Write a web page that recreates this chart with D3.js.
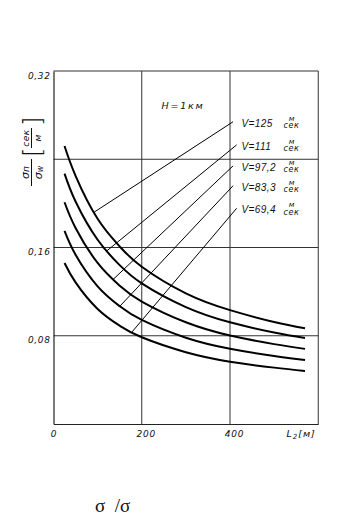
<!DOCTYPE html>
<html><head><meta charset="utf-8">
<script src="https://cdn.jsdelivr.net/npm/d3@7"></script>
<style>body{margin:0;background:#fff} svg{display:block}</style>
</head><body><svg id="c" width="356" height="517"></svg>
<script>
// ---- data ----
const xValues   = [25, 50, 100, 150, 200, 300, 400, 500, 570];
const seriesV125  = [0.252, 0.225, 0.186, 0.161, 0.1425, 0.1184, 0.1032, 0.0925, 0.0868];
const seriesV111  = [0.227, 0.2017, 0.167, 0.144, 0.1275, 0.106, 0.0922, 0.0829, 0.0779];
const seriesV97_2 = [0.201, 0.1777, 0.146, 0.1254, 0.111, 0.0922, 0.0802, 0.0724, 0.0681];
const seriesV83_3 = [0.175, 0.1534, 0.1248, 0.1068, 0.0943, 0.0782, 0.0682, 0.0616, 0.058];
const seriesV69_4 = [0.146, 0.1284, 0.1043, 0.0891, 0.0786, 0.0651, 0.0565, 0.0511, 0.0481];
const speedLabels = ["125", "111", "97,2", "83,3", "69,4"];
const leaderFrom  = [[407, 0.274], [415, 0.253], [407, 0.234], [407, 0.216], [415, 0.1955]];
const leaderTo    = [[92, 0.192], [121, 0.157], [135, 0.131], [151, 0.107], [177, 0.083]];
const xTicks      = [0, 200, 400];
const xTickLabels = ["0", "200", "400"];
const yTicks      = [0.32, 0.16, 0.08];
const yTickLabels = ["0,32", "0,16", "0,08"];
const xGrid       = [200, 400, 600];
const yGrid       = [0.08, 0.16, 0.24, 0.32];

const series = [seriesV125, seriesV111, seriesV97_2, seriesV83_3, seriesV69_4];

const svg = d3.select("#c");
const x = d3.scaleLinear().domain([0, 600]).range([53.5, 318.25]);
const y = d3.scaleLinear().domain([0, 0.32]).range([424, 71]);
const FONT = "'DejaVu Sans', sans-serif";
const LFONT = "'Liberation Sans', sans-serif";

// grid
svg.append("g").selectAll("line").data(xGrid).join("line")
  .attr("x1", d => x(d)).attr("x2", d => x(d))
  .attr("y1", y(0)).attr("y2", y(0.32))
  .attr("stroke", "#333").attr("stroke-width", 1);
svg.append("g").selectAll("line").data(yGrid).join("line")
  .attr("x1", x(0)).attr("x2", x(600))
  .attr("y1", d => y(d)).attr("y2", d => y(d))
  .attr("stroke", "#333").attr("stroke-width", 1);

// axes
const xAxis = svg.append("g").attr("transform", `translate(0,${y(0)})`)
  .call(d3.axisBottom(x).tickValues(xTicks).tickFormat((d, i) => xTickLabels[i])
        .tickSize(0).tickSizeOuter(0).tickPadding(7));
xAxis.select(".domain").attr("stroke", "#222").attr("stroke-width", 1.2);
xAxis.selectAll("text").attr("font-family", FONT).attr("font-size", 9)
  .attr("font-style", "italic").attr("letter-spacing", 0.8).attr("fill", "#111")
  .attr("dx", d => d === 0 ? "0" : "0.45em");

const yAxis = svg.append("g").attr("transform", `translate(${x(0)},0)`)
  .call(d3.axisLeft(y).tickValues(yTicks).tickFormat((d, i) => yTickLabels[i])
        .tickSize(0).tickSizeOuter(0).tickPadding(3));
yAxis.select(".domain").attr("stroke", "#222").attr("stroke-width", 1.2);
yAxis.selectAll("text").attr("font-family", FONT).attr("font-size", 9)
  .attr("font-style", "italic").attr("letter-spacing", 0.6).attr("fill", "#111")
  .attr("dy", "0.8em");

// x axis name
const xName = svg.append("text").attr("x", x(528)).attr("y", 437)
  .attr("font-family", FONT).attr("font-size", 9.5).attr("font-style", "italic")
  .attr("letter-spacing", 1).attr("fill", "#111");
xName.append("tspan").text("L");
xName.append("tspan").attr("font-size", 7).attr("dy", 2).text("2");
xName.append("tspan").attr("dy", -2).text("[м]");

// curves
const line = d3.line().x((d, i) => x(xValues[i])).y(d => y(d)).curve(d3.curveNatural);
svg.append("g").selectAll("path").data(series).join("path")
  .attr("d", d => line(d)).attr("fill", "none")
  .attr("stroke", "#000").attr("stroke-width", 2);

// leaders and labels
svg.append("g").selectAll("line").data(leaderFrom).join("line")
  .attr("x1", d => x(d[0])).attr("y1", d => y(d[1]))
  .attr("x2", (d, i) => x(leaderTo[i][0])).attr("y2", (d, i) => y(leaderTo[i][1]))
  .attr("stroke", "#000").attr("stroke-width", 1);

leaderFrom.forEach((d, i) => {
  const ly = y(d[1]) + 5;
  svg.append("text").attr("x", 241.5).attr("y", ly)
    .attr("font-family", LFONT).attr("font-size", 10).attr("font-style", "italic")
    .attr("letter-spacing", 0.4).attr("fill", "#111")
    .text("V=" + speedLabels[i]);
  svg.append("text").attr("x", 291.5).attr("y", ly + 1.5).attr("text-anchor", "middle")
    .attr("font-family", FONT).attr("font-size", 8).attr("font-style", "italic")
    .attr("letter-spacing", 0.6).attr("fill", "#111").text("сек");
  svg.append("text").attr("x", 291.5).attr("y", ly - 6).attr("text-anchor", "middle")
    .attr("font-family", FONT).attr("font-size", 7.5).attr("font-style", "italic")
    .attr("fill", "#111").text("м");
});

// H label
svg.append("text").attr("x", 161.5).attr("y", 108.5)
  .attr("font-family", FONT).attr("font-size", 9.5).attr("font-style", "italic")
  .attr("letter-spacing", 1.8).attr("fill", "#111").text("H=1км");

// y axis title (rotated)
const yt = svg.append("g").attr("transform", "translate(31.5,186) rotate(-90)")
  .attr("font-family", FONT).attr("font-style", "italic").attr("fill", "#111");
yt.append("line").attr("x1", 0).attr("x2", 27).attr("y1", 0).attr("y2", 0)
  .attr("stroke", "#111").attr("stroke-width", 1);
const num = yt.append("text").attr("x", 13.5).attr("y", -2.5).attr("text-anchor", "middle").attr("font-size", 11);
num.append("tspan").text("σ");
num.append("tspan").attr("font-size", 9).text("п");
const den = yt.append("text").attr("x", 13.5).attr("y", 10).attr("text-anchor", "middle").attr("font-size", 11);
den.append("tspan").text("σ");
den.append("tspan").attr("font-size", 8).attr("dy", 1).text("w");
yt.append("text").attr("x", 29).attr("y", 9).attr("font-size", 24).attr("font-style", "normal")
  .attr("font-weight", 200).text("[");
yt.append("text").attr("x", 60).attr("y", 9).attr("font-size", 24).attr("font-style", "normal")
  .attr("font-weight", 200).text("]");
yt.append("line").attr("x1", 38).attr("x2", 58).attr("y1", 0).attr("y2", 0)
  .attr("stroke", "#111").attr("stroke-width", 1);
yt.append("text").attr("x", 48).attr("y", -3).attr("text-anchor", "middle")
  .attr("font-size", 9).attr("letter-spacing", 0.5).text("сек");
yt.append("text").attr("x", 48).attr("y", 9).attr("text-anchor", "middle")
  .attr("font-size", 9).text("м");

// caption below
svg.append("text").attr("x", 95).attr("y", 512)
  .attr("font-family", "'Liberation Serif', serif").attr("font-size", 19)
  .attr("fill", "#111").attr("xml:space", "preserve").style("white-space", "pre")
  .text("σ  /σ");
</script></body></html>
